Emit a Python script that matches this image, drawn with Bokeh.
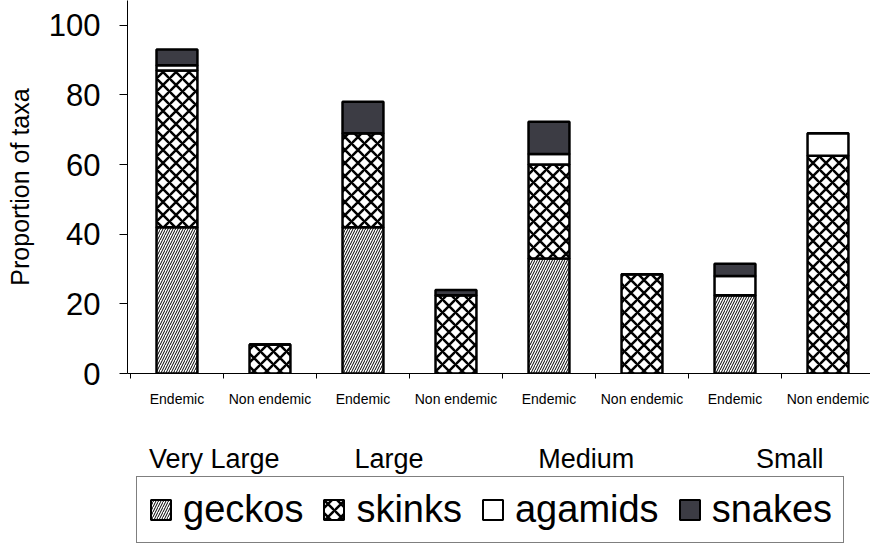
import numpy as np
from bokeh.plotting import figure
from bokeh.layouts import column
from bokeh.models import (ColumnDataSource, Range1d, FixedTicker, LinearAxis,
                          Legend, LegendItem)
from bokeh.embed import file_html
from bokeh.resources import INLINE

# ---- data ----
categories = ["Endemic", "Non endemic", "Endemic", "Non endemic",
              "Endemic", "Non endemic", "Endemic", "Non endemic"]
groups = ["Very Large", "Large", "Medium", "Small"]
series_names = ["geckos", "skinks", "agamids", "snakes"]
geckos = [42, 0, 42, 0, 33, 0, 22.5, 0]
skinks = [45, 8.3, 27, 22.5, 27, 28.5, 0, 62.5]
agamids = [1.5, 0, 0, 0, 3, 0, 5.5, 6.5]
snakes = [4.5, 0, 9, 1.5, 9.3, 0, 3.5, 0]
y_ticks = [0, 20, 40, 60, 80, 100]

# ---- styles / layout constants ----
FONT = "Liberation Sans"
fills = ["white", "white", "white", "#3c3c44"]
hatches = ["/", "x", " ", " "]
hatch_scales = [5, 13, 1, 1]
hatch_weights = [1, 2.5, 1, 1]
xs = [i + 0.5 for i in range(len(categories))]
boundaries = list(range(len(categories) + 1))
group_label_pos = [0.9, 2.78, 4.9, 7.09]

src = ColumnDataSource(dict(x=xs, geckos=geckos, skinks=skinks,
                            agamids=agamids, snakes=snakes))

p = figure(width=870, height=476, output_backend="svg", toolbar_location=None,
           x_range=Range1d(-0.032, 7.957), y_range=Range1d(0, 107.1),
           min_border_left=127, min_border_right=0, min_border_top=0,
           min_border_bottom=99)
p.outline_line_color = None
p.xgrid.visible = False
p.ygrid.visible = False
p.background_fill_color = "white"
p.border_fill_color = "white"

p.vbar_stack(series_names, x="x", width=0.44, source=src,
             fill_color=fills, hatch_pattern=hatches,
             hatch_scale=hatch_scales, hatch_weight=hatch_weights,
             hatch_color="black", line_color="black", line_width=2.5)

# y axis
yax = p.yaxis[0]
yax.ticker = FixedTicker(ticks=y_ticks)
yax.minor_tick_line_color = None
yax.major_tick_in = 0
yax.major_tick_out = 8
yax.major_label_standoff = 19
yax.major_label_text_font = FONT
yax.major_label_text_font_size = "31px"
yax.major_label_text_color = "black"
yax.axis_line_color = "black"
yax.axis_label = "Proportion of taxa"
yax.axis_label_text_font = FONT
yax.axis_label_text_font_size = "25px"
yax.axis_label_text_font_style = "normal"
yax.axis_label_text_color = "black"
yax.axis_label_standoff = 12

# x axis (category labels)
xax = p.xaxis[0]
xax.ticker = FixedTicker(ticks=xs, minor_ticks=boundaries)
xax.major_label_overrides = {x: c for x, c in zip(xs, categories)}
xax.major_tick_line_color = None
xax.major_tick_in = 0
xax.major_tick_out = 0
xax.minor_tick_in = 0
xax.minor_tick_out = 5
xax.minor_tick_line_color = "black"
xax.major_label_standoff = 12
xax.major_label_text_font = FONT
xax.major_label_text_font_size = "14px"
xax.major_label_text_color = "black"
xax.axis_line_color = "black"

# group labels axis
gax = LinearAxis(ticker=FixedTicker(ticks=group_label_pos, minor_ticks=[]),
                 major_label_overrides={x: g for x, g in zip(group_label_pos, groups)})
gax.axis_line_color = None
gax.major_tick_line_color = None
gax.minor_tick_line_color = None
gax.major_tick_in = 0
gax.major_tick_out = 0
gax.major_label_standoff = 34
gax.major_label_text_font = FONT
gax.major_label_text_font_size = "27px"
gax.major_label_text_color = "black"
p.add_layout(gax, "below")

# legend strip: swatch-only renderers (NaN rows are never drawn)
lg = figure(width=870, height=68, output_backend="svg", toolbar_location=None,
            x_range=Range1d(0, 1), y_range=Range1d(0, 1),
            min_border_left=0, min_border_right=0, min_border_top=0,
            min_border_bottom=0)
lg.axis.visible = False
lg.xgrid.visible = False
lg.ygrid.visible = False
lg.outline_line_color = None
lg.border_fill_color = "white"
lg.background_fill_color = "white"

items = []
for name, fc, hp, hs, hw in zip(series_names, fills, hatches, hatch_scales, hatch_weights):
    swatch = ColumnDataSource(dict(x=np.array([np.nan]), top=np.array([np.nan])))
    r = lg.vbar(x="x", top="top", width=0.1, source=swatch,
                fill_color=fc, hatch_pattern=hp, hatch_scale=hs,
                hatch_weight=hw, hatch_color="black",
                line_color="black", line_width=2)
    items.append(LegendItem(label=name, renderers=[r]))

legend = Legend(items=items, orientation="horizontal", location=(9, 1))
legend.label_text_font = FONT
legend.label_text_font_size = "38px"
legend.label_text_color = "black"
legend.glyph_width = 25
legend.glyph_height = 25
legend.label_standoff = 10
legend.spacing = 18
legend.padding = 11
legend.margin = 0
legend.border_line_color = "black"
legend.border_line_width = 1.5
legend.background_fill_color = "white"
lg.add_layout(legend, "center")

open("out.html", "w").write(file_html(column(p, lg), INLINE))
